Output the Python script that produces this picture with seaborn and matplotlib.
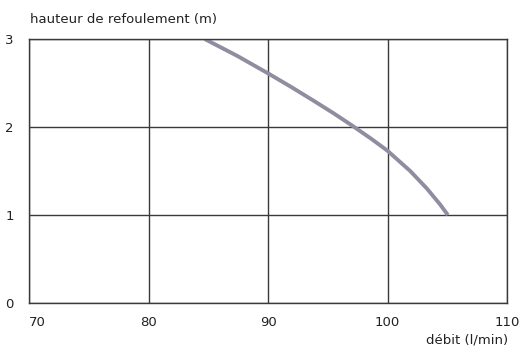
import matplotlib
matplotlib.use("Agg")
import matplotlib.pyplot as plt
import seaborn as sns
import pandas as pd

# pump curve
debit = [84.7, 87.4, 90.0, 92.0, 93.8, 95.5, 97.0, 98.6, 100.0, 101.9, 103.3, 104.4, 105.05]
hauteur = [3.0, 2.81, 2.61, 2.45, 2.30, 2.155, 2.02, 1.87, 1.73, 1.50, 1.30, 1.12, 1.0]
x_ticks = [70, 80, 90, 100, 110]
y_ticks = [0, 1, 2, 3]

sns.set_style("white")
plt.rcParams['font.family'] = ['DejaVu Sans']

df = pd.DataFrame({"debit": debit, "hauteur": hauteur})

fig = plt.figure(figsize=(5.2, 3.47), dpi=100)
ax = fig.add_axes([0.0558, 0.1268, 0.9192, 0.7608])

sns.lineplot(data=df, x="debit", y="hauteur", ax=ax, color="#8f8d9f",
             linewidth=2.8, solid_capstyle="butt", solid_joinstyle="round", sort=False)

ax.set_xlim(70, 110)
ax.set_ylim(0, 3)
ax.set_xticks(x_ticks)
ax.set_yticks(y_ticks)
ax.grid(True, color="#3a3a3a", linewidth=1)
ax.set_axisbelow(True)
for s in ax.spines.values():
    s.set_color("#3a3a3a")
    s.set_linewidth(1)
ax.tick_params(length=0, labelsize=9.5, colors="#222222")
ax.tick_params(axis="x", pad=9)
ax.tick_params(axis="y", pad=11)
ax.get_xticklabels()[0].set_horizontalalignment("left")
ax.set_xlabel("")
ax.set_ylabel("")

fig.text(30 / 520, 1 - 19 / 347, "hauteur de refoulement (m)", fontsize=9.5,
         color="#222222", va="center", ha="left")
fig.text(508 / 520, 1 - 340 / 347, "débit (l/min)", fontsize=9.5,
         color="#222222", va="center", ha="right")

fig.savefig("out.png", dpi=100)
